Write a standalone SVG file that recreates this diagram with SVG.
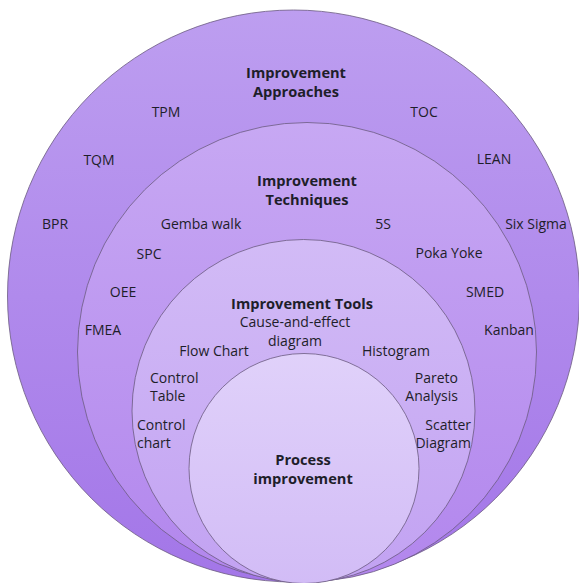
<svg xmlns="http://www.w3.org/2000/svg" width="579" height="583" viewBox="0 0 579 583">
  <defs>
    <linearGradient id="g1" x1="0" y1="0" x2="0" y2="1">
      <stop offset="0" stop-color="#bd9ef0"/>
      <stop offset="1" stop-color="#a376e8"/>
    </linearGradient>
    <linearGradient id="g2" x1="0" y1="0" x2="0" y2="1">
      <stop offset="0" stop-color="#c7a8f3"/>
      <stop offset="1" stop-color="#b286ed"/>
    </linearGradient>
    <linearGradient id="g3" x1="0" y1="0" x2="0" y2="1">
      <stop offset="0" stop-color="#d2bbf6"/>
      <stop offset="1" stop-color="#c2a2f2"/>
    </linearGradient>
    <linearGradient id="g4" x1="0" y1="0" x2="0" y2="1">
      <stop offset="0" stop-color="#e0d1fa"/>
      <stop offset="1" stop-color="#d2bcf6"/>
    </linearGradient>
    <style>
      .ring { stroke: #6b5a80; stroke-width: 0.8; }
      text { font-family: "Open Sans", "Liberation Sans", sans-serif; font-size: 14px; fill: #1e1e2a; text-anchor: middle; }
      .h { font-weight: bold; font-size: 14.6px; }
      .l { text-anchor: start; }
      .r { text-anchor: end; }
    </style>
  </defs>

  <g id="approaches">
    <circle class="ring" cx="293.5" cy="296" r="286" fill="url(#g1)"/>
    <text class="h" x="296" y="78">Improvement</text>
    <text class="h" x="296" y="97">Approaches</text>
    <text x="166" y="117">TPM</text>
    <text x="424" y="117">TOC</text>
    <text x="99" y="165">TQM</text>
    <text x="494" y="164">LEAN</text>
    <text x="55" y="229">BPR</text>
    <text x="536" y="229">Six Sigma</text>
  </g>

  <g id="techniques">
    <circle class="ring" cx="307" cy="352" r="229.5" fill="url(#g2)"/>
    <text class="h" x="307" y="186">Improvement</text>
    <text class="h" x="307" y="205">Techniques</text>
    <text x="201" y="229">Gemba walk</text>
    <text x="383" y="229">5S</text>
    <text x="149" y="259">SPC</text>
    <text x="449" y="258">Poka Yoke</text>
    <text x="123" y="297">OEE</text>
    <text x="485" y="297">SMED</text>
    <text x="103" y="335">FMEA</text>
    <text x="509" y="335">Kanban</text>
  </g>

  <g id="tools">
    <circle class="ring" cx="303.5" cy="411" r="171.5" fill="url(#g3)"/>
    <text class="h" x="302" y="309">Improvement Tools</text>
    <text x="295" y="327">Cause-and-effect</text>
    <text x="295" y="346">diagram</text>
    <text x="214" y="356">Flow Chart</text>
    <text x="396" y="356">Histogram</text>
    <text class="l" x="150" y="383">Control</text>
    <text class="l" x="150" y="401">Table</text>
    <text class="r" x="458" y="383">Pareto</text>
    <text class="r" x="458" y="401">Analysis</text>
    <text class="l" x="137" y="430">Control</text>
    <text class="l" x="137" y="448">chart</text>
    <text class="r" x="471" y="430">Scatter</text>
    <text class="r" x="471" y="448">Diagram</text>
  </g>

  <g id="process">
    <circle class="ring" cx="304" cy="468.5" r="115" fill="url(#g4)"/>
    <text class="h" x="303" y="465">Process</text>
    <text class="h" x="303" y="484">improvement</text>
  </g>
</svg>
